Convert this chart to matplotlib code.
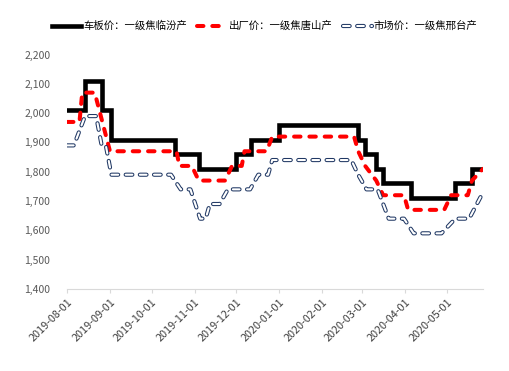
import matplotlib
matplotlib.use("Agg")
import matplotlib.pyplot as plt
import matplotlib.dates as mdates
import matplotlib.patheffects as pe
from matplotlib.ticker import FuncFormatter
import pandas as pd

plt.rcParams['font.family'] = ['Noto Sans CJK SC', 'DejaVu Sans']

# 车板价：一级焦临汾产 (change points, drawn as steps)
linfen_dates = ["2019-08-01", "2019-08-14", "2019-08-26", "2019-09-02", "2019-10-18",
                "2019-11-04", "2019-12-01", "2019-12-12", "2020-01-01", "2020-02-27",
                "2020-03-03", "2020-03-11", "2020-03-16", "2020-04-05", "2020-05-07",
                "2020-05-19", "2020-05-28"]
linfen_values = [2010, 2110, 2010, 1910, 1860, 1810, 1860, 1910, 1960, 1910,
                 1860, 1810, 1760, 1710, 1760, 1810, 1810]

# 出厂价：一级焦唐山产
tangshan_dates = ["2019-08-01", "2019-08-10", "2019-08-12", "2019-08-21", "2019-09-01",
                  "2019-10-19", "2019-10-21", "2019-10-30", "2019-11-04", "2019-11-23",
                  "2019-11-28", "2019-12-05", "2019-12-07", "2019-12-23", "2019-12-27",
                  "2020-02-24", "2020-02-27", "2020-03-03", "2020-03-11", "2020-03-16",
                  "2020-03-31", "2020-04-03", "2020-04-29", "2020-05-04", "2020-05-16",
                  "2020-05-19", "2020-05-27"]
tangshan_values = [1970, 1970, 2070, 2070, 1870, 1870, 1820, 1820, 1770, 1770,
                   1820, 1820, 1870, 1870, 1920, 1920, 1870, 1820, 1770, 1720,
                   1720, 1670, 1670, 1720, 1720, 1770, 1810]

# 市场价：一级焦邢台产
xingtai_dates = ["2019-08-01", "2019-08-06", "2019-08-14", "2019-08-22", "2019-08-26",
                 "2019-08-29", "2019-09-02", "2019-10-15", "2019-10-22", "2019-10-29",
                 "2019-11-05", "2019-11-09", "2019-11-12", "2019-11-19", "2019-11-25",
                 "2019-12-11", "2019-12-17", "2019-12-24", "2019-12-27", "2020-02-22",
                 "2020-02-27", "2020-03-04", "2020-03-12", "2020-03-20", "2020-03-31",
                 "2020-04-07", "2020-04-27", "2020-05-07", "2020-05-17", "2020-05-27"]
xingtai_values = [1890, 1890, 1990, 1990, 1890, 1890, 1790, 1790, 1740, 1740,
                  1640, 1640, 1690, 1690, 1740, 1740, 1790, 1790, 1840, 1840,
                  1790, 1740, 1740, 1640, 1640, 1590, 1590, 1640, 1640, 1730]

labels = ["车板价：一级焦临汾产", "出厂价：一级焦唐山产", "市场价：一级焦邢台产"]

fig = plt.figure(figsize=(5.09, 3.71), dpi=100)
ax = fig.add_axes([0.1316, 0.221, 0.8174, 0.632])

ax.plot(pd.to_datetime(linfen_dates), linfen_values, color="black", lw=3.3,
        drawstyle="steps-post", solid_joinstyle="miter", label=labels[0])
ax.plot(pd.to_datetime(tangshan_dates), tangshan_values, color="#ff0000", lw=2.9,
        dashes=(1.6, 2.2), dash_capstyle="round", label=labels[1])
ax.plot(pd.to_datetime(xingtai_dates), xingtai_values, color="white", lw=1.5,
        dashes=(3.2, 3.6), dash_capstyle="round", label=labels[2],
        path_effects=[pe.Stroke(linewidth=3.0, foreground="#203864"), pe.Normal()])

ax.set_ylim(1400, 2200)
ax.set_yticks(range(1400, 2201, 100))
ax.yaxis.set_major_formatter(FuncFormatter(lambda v, p: f"{int(v):,}"))
ax.set_xlim(pd.Timestamp("2019-08-01"), pd.Timestamp("2020-05-27"))
ax.xaxis.set_major_locator(mdates.MonthLocator())
ax.xaxis.set_major_formatter(mdates.DateFormatter("%Y-%m-%d"))

for s in ["top", "right", "left"]:
    ax.spines[s].set_visible(False)
ax.spines["bottom"].set_color("#d9d9d9")
ax.tick_params(axis="y", length=0, pad=12, labelsize=7.5, labelcolor="#595959")
ax.tick_params(axis="x", length=3, color="#d9d9d9", labelsize=7.8, labelcolor="#404040", pad=3)
for t in ax.get_xticklabels():
    t.set_rotation(45)
    t.set_ha("right")
    t.set_rotation_mode("anchor")

fig.legend(loc="center", bbox_to_anchor=(0.52, 0.93), ncol=3, frameon=False,
           fontsize=7.5, handlelength=2.8, handletextpad=0.2, columnspacing=1.0)

fig.savefig("out.png", dpi=100)
